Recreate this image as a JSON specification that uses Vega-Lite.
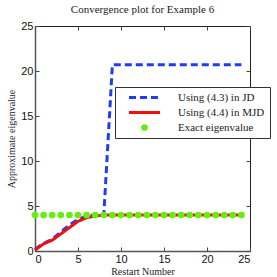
{
  "$schema": "https://vega.github.io/schema/vega-lite/v6.json",
  "width": 215,
  "height": 225,
  "padding": {"left": 6, "top": 4, "right": 5, "bottom": 5},
  "background": "white",
  "title": {"text": "Convergence plot for Example 6", "font": "Liberation Serif", "fontSize": 11, "fontWeight": "normal", "color": "#222", "offset": 5},
  "config": {
    "view": {"stroke": "#222", "strokeWidth": 1},
    "axis": {"grid": false, "labelFont": "Liberation Sans", "labelFontSize": 11, "labelColor": "#111", "titleFont": "Liberation Serif", "titleFontSize": 10, "titleFontWeight": "normal", "titleColor": "#222", "domainColor": "#555", "domainWidth": 1.5, "tickColor": "#444", "tickSize": -4, "labelPadding": 6}
  },
  "datasets": {
    "lines": [
      {"x": 0, "y": 0.2, "series": "Using (4.3) in JD"},
      {"x": 1, "y": 0.85, "series": "Using (4.3) in JD"},
      {"x": 2, "y": 1.3, "series": "Using (4.3) in JD"},
      {"x": 3, "y": 2.1, "series": "Using (4.3) in JD"},
      {"x": 4, "y": 2.9, "series": "Using (4.3) in JD"},
      {"x": 5, "y": 3.5, "series": "Using (4.3) in JD"},
      {"x": 6, "y": 3.9, "series": "Using (4.3) in JD"},
      {"x": 7, "y": 4.0, "series": "Using (4.3) in JD"},
      {"x": 8, "y": 4.0, "series": "Using (4.3) in JD"},
      {"x": 9, "y": 20.7, "series": "Using (4.3) in JD"},
      {"x": 10, "y": 20.7, "series": "Using (4.3) in JD"},
      {"x": 11, "y": 20.7, "series": "Using (4.3) in JD"},
      {"x": 12, "y": 20.7, "series": "Using (4.3) in JD"},
      {"x": 13, "y": 20.7, "series": "Using (4.3) in JD"},
      {"x": 14, "y": 20.7, "series": "Using (4.3) in JD"},
      {"x": 15, "y": 20.7, "series": "Using (4.3) in JD"},
      {"x": 16, "y": 20.7, "series": "Using (4.3) in JD"},
      {"x": 17, "y": 20.7, "series": "Using (4.3) in JD"},
      {"x": 18, "y": 20.7, "series": "Using (4.3) in JD"},
      {"x": 19, "y": 20.7, "series": "Using (4.3) in JD"},
      {"x": 20, "y": 20.7, "series": "Using (4.3) in JD"},
      {"x": 21, "y": 20.7, "series": "Using (4.3) in JD"},
      {"x": 22, "y": 20.7, "series": "Using (4.3) in JD"},
      {"x": 23, "y": 20.7, "series": "Using (4.3) in JD"},
      {"x": 24, "y": 20.7, "series": "Using (4.3) in JD"},
      {"x": 0, "y": 0.1, "series": "Using (4.4) in MJD"},
      {"x": 1, "y": 0.8, "series": "Using (4.4) in MJD"},
      {"x": 2, "y": 1.2, "series": "Using (4.4) in MJD"},
      {"x": 3, "y": 1.9, "series": "Using (4.4) in MJD"},
      {"x": 4, "y": 2.6, "series": "Using (4.4) in MJD"},
      {"x": 5, "y": 3.3, "series": "Using (4.4) in MJD"},
      {"x": 6, "y": 3.7, "series": "Using (4.4) in MJD"},
      {"x": 7, "y": 3.9, "series": "Using (4.4) in MJD"},
      {"x": 8, "y": 4.0, "series": "Using (4.4) in MJD"},
      {"x": 9, "y": 4.0, "series": "Using (4.4) in MJD"},
      {"x": 10, "y": 4.0, "series": "Using (4.4) in MJD"},
      {"x": 11, "y": 4.0, "series": "Using (4.4) in MJD"},
      {"x": 12, "y": 4.0, "series": "Using (4.4) in MJD"},
      {"x": 13, "y": 4.0, "series": "Using (4.4) in MJD"},
      {"x": 14, "y": 4.0, "series": "Using (4.4) in MJD"},
      {"x": 15, "y": 4.0, "series": "Using (4.4) in MJD"},
      {"x": 16, "y": 4.0, "series": "Using (4.4) in MJD"},
      {"x": 17, "y": 4.0, "series": "Using (4.4) in MJD"},
      {"x": 18, "y": 4.0, "series": "Using (4.4) in MJD"},
      {"x": 19, "y": 4.0, "series": "Using (4.4) in MJD"},
      {"x": 20, "y": 4.0, "series": "Using (4.4) in MJD"},
      {"x": 21, "y": 4.0, "series": "Using (4.4) in MJD"},
      {"x": 22, "y": 4.0, "series": "Using (4.4) in MJD"},
      {"x": 23, "y": 4.0, "series": "Using (4.4) in MJD"},
      {"x": 24, "y": 4.0, "series": "Using (4.4) in MJD"}
    ],
    "exact": [
      {"x": 0, "y": 4}, {"x": 1, "y": 4}, {"x": 2, "y": 4}, {"x": 3, "y": 4}, {"x": 4, "y": 4},
      {"x": 5, "y": 4}, {"x": 6, "y": 4}, {"x": 7, "y": 4}, {"x": 8, "y": 4}, {"x": 9, "y": 4},
      {"x": 10, "y": 4}, {"x": 11, "y": 4}, {"x": 12, "y": 4}, {"x": 13, "y": 4}, {"x": 14, "y": 4},
      {"x": 15, "y": 4}, {"x": 16, "y": 4}, {"x": 17, "y": 4}, {"x": 18, "y": 4}, {"x": 19, "y": 4},
      {"x": 20, "y": 4}, {"x": 21, "y": 4}, {"x": 22, "y": 4}, {"x": 23, "y": 4}, {"x": 24, "y": 4}
    ]
  },
  "resolve": {"axis": {"x": "independent", "y": "independent"}},
  "layer": [
    {
      "data": {"name": "lines"},
      "mark": {"type": "line", "strokeWidth": 3},
      "encoding": {
        "x": {"field": "x", "type": "quantitative", "scale": {"domain": [0, 25], "nice": false}, "axis": {"title": "Restart Number", "values": [0, 5, 10, 15, 20, 25], "titlePadding": 2}},
        "y": {"field": "y", "type": "quantitative", "scale": {"domain": [0, 25], "nice": false}, "axis": {"title": "Approximate eigenvalue", "values": [0, 5, 10, 15, 20, 25], "titlePadding": 4}},
        "color": {
          "field": "series", "type": "nominal",
          "scale": {"domain": ["Using (4.3) in JD", "Using (4.4) in MJD", "Exact eigenvalue"], "range": ["#1f3cf5", "#f01010", "#66ee11"]},
          "legend": {
            "title": null, "orient": "none", "legendX": 80, "legendY": 61, "zindex": 2,
            "labelFont": "Liberation Serif", "labelFontSize": 11, "labelColor": "#222",
            "strokeColor": "#333", "fillColor": "white", "padding": 5, "rowPadding": 2,
            "symbolSize": 961, "symbolType": "stroke", "symbolStrokeWidth": 3, "labelOffset": 28, "symbolOffset": 19,
            "encode": {
              "symbols": {
                "update": {
                  "shape": {"signal": "datum.value === 'Exact eigenvalue' ? 'circle' : 'stroke'"},
                  "size": {"signal": "datum.value === 'Exact eigenvalue' ? 45 : 961"},
                  "strokeDash": {"signal": "datum.value === 'Using (4.3) in JD' ? [7,4] : [1,0]"},
                  "fill": {"signal": "datum.value === 'Exact eigenvalue' ? '#66ee11' : 'transparent'"},
                  "strokeWidth": {"signal": "datum.value === 'Exact eigenvalue' ? 0 : 3"},
                  "opacity": {"value": 1}
                }
              }
            }
          }
        },
        "strokeDash": {"field": "series", "type": "nominal", "scale": {"domain": ["Using (4.3) in JD", "Using (4.4) in MJD"], "range": [[7, 4], [1, 0]]}, "legend": null}
      }
    },
    {
      "data": {"name": "exact"},
      "mark": {"type": "circle", "size": 45, "opacity": 1},
      "encoding": {
        "x": {"field": "x", "type": "quantitative", "axis": {"orient": "top", "labels": false, "title": null, "values": [0, 5, 10, 15, 20, 25], "domain": false}},
        "y": {"field": "y", "type": "quantitative", "axis": {"orient": "right", "labels": false, "title": null, "values": [0, 5, 10, 15, 20, 25], "domain": false}},
        "color": {"datum": "Exact eigenvalue"}
      }
    }
  ]
}
